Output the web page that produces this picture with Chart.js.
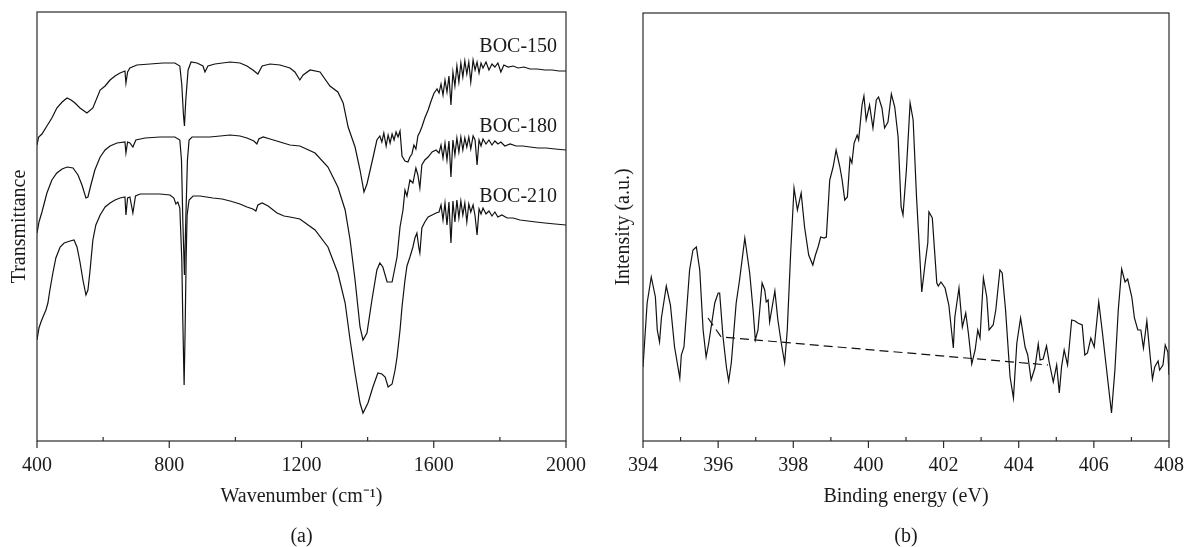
<!DOCTYPE html>
<html lang="en">
<head>
  <meta charset="UTF-8" />
  <title>BOC FTIR and N 1s XPS</title>
  <script src="https://cdn.jsdelivr.net/npm/chart.js"></script>
  <style>
    body { margin: 0; background: #fff; }
    canvas { position: absolute; top: 0; }
    #ftirChart { left: 0; }
    #xpsChart { left: 593px; }
  </style>
</head>
<body>
  <canvas id="ftirChart" width="593" height="547"></canvas>
  <canvas id="xpsChart" width="593" height="547"></canvas>

  <script>
    // --- (a) FTIR spectra, wavenumber (cm-1) vs transmittance (a.u.) ---
    const wn150 = [400,405,415,430,445,460,476,491,503,515,530,551,569,591,606,621,636,651,666,669,
      674,681,702,742,781,817,832,838,843,846,850,857,866,884,902,908,917,938,984,1014,
      1035,1053,1068,1081,1105,1135,1165,1180,1195,1205,1226,1256,1286,1310,1326,1341,1362,1377,1389,1398,
      1416,1428,1437,1443,1449,1456,1462,1468,1474,1480,1486,1492,1498,1504,1513,1522,1528,1534,1540,1546,
      1552,1558,1564,1573,1583,1592,1601,1610,1616,1622,1628,1634,1640,1646,1652,1658,1664,1670,1676,1682,
      1688,1694,1700,1706,1712,1719,1725,1731,1737,1743,1749,1758,1767,1776,1785,1794,1803,1812,1825,1840,
      1855,1873,1891,1912,1936,1958,1979,2000];
    const t150 = [296,304,307,315,323,333,339,343,341,338,333,328,333,351,355,361,365,368,370,358,
      369,373,376,377,378,378,375,356,326,315,341,371,379,378,375,369,375,377,379,378,
      375,371,367,375,377,376,373,369,361,366,371,369,355,349,338,314,294,271,249,257,
      283,301,305,299,308,295,306,298,307,301,309,304,310,285,280,279,284,287,296,292,
      305,309,314,323,331,340,348,352,348,357,346,361,349,365,336,369,355,375,359,378,
      364,380,367,379,359,381,371,379,368,378,373,379,371,377,374,378,369,376,374,375,
      373,374,372,372,371,371,370,370];

    const wn180 = [400,406,415,430,445,460,476,491,509,524,536,548,554,563,575,591,606,621,642,666,
      669,674,681,690,699,727,772,817,832,837,841,846,850,855,860,869,893,923,954,984,
      1014,1035,1056,1065,1071,1084,1105,1135,1165,1195,1241,1280,1310,1332,1347,1362,1377,1386,1398,1413,
      1428,1437,1446,1459,1474,1489,1498,1507,1513,1519,1528,1537,1546,1552,1558,1564,1573,1583,1595,1607,
      1616,1622,1628,1634,1640,1646,1652,1658,1664,1670,1676,1682,1688,1694,1700,1706,1712,1719,1725,1731,
      1737,1743,1749,1758,1767,1776,1785,1794,1803,1815,1831,1849,1870,1891,1915,1940,1967,2000];
    const t180 = [208,219,229,248,261,268,272,274,273,266,256,243,244,256,271,284,291,295,298,299,
      288,299,298,294,301,303,304,304,301,281,221,166,221,281,301,304,304,304,305,306,
      305,303,300,297,302,304,302,299,296,295,288,274,254,231,201,161,114,101,108,141,
      171,178,174,159,159,184,214,231,251,245,261,258,273,266,253,276,281,284,289,291,
      288,296,283,298,281,300,264,301,286,303,289,304,291,303,294,304,292,305,301,276,
      301,295,302,297,301,296,300,297,299,295,297,295,295,294,293,293,292,291];

    const wn210 = [400,406,412,418,427,433,439,448,457,470,482,500,512,521,530,539,548,554,560,569,
      578,591,606,621,636,651,666,669,674,681,690,698,712,742,772,802,814,820,826,832,
      838,841,845,848,851,854,860,872,893,932,960,984,1014,1035,1053,1062,1068,1081,1099,1126,
      1147,1165,1195,1241,1280,1310,1332,1347,1362,1377,1386,1401,1416,1431,1443,1453,1462,1474,1483,1489,
      1498,1504,1513,1519,1528,1537,1543,1549,1555,1558,1564,1573,1583,1595,1607,1616,1622,1628,1634,1640,
      1646,1652,1658,1664,1670,1676,1682,1688,1694,1700,1706,1712,1719,1725,1731,1737,1743,1749,1758,1767,
      1776,1785,1794,1806,1822,1840,1861,1885,1909,1936,1967,2000];
    const t210 = [101,113,119,124,131,138,151,168,183,194,198,200,201,194,179,161,146,151,169,201,
      216,226,234,238,241,243,244,226,243,244,228,245,247,247,247,246,243,237,239,233,
      181,121,56,111,181,226,241,245,245,243,242,240,237,234,232,230,236,238,235,228,
      225,224,222,211,194,168,138,101,68,38,28,38,54,68,67,64,54,57,71,84,
      111,134,161,175,184,194,203,208,193,188,213,219,224,226,228,229,236,221,238,216,
      239,198,240,219,241,223,240,226,238,219,237,229,236,225,206,232,227,233,227,230,
      225,229,224,226,223,223,221,220,219,218,217,216];

    const ftirNames = ["BOC-150", "BOC-180", "BOC-210"];
    const ftirLabelWn = [1973, 1973, 1973];
    const ftirLabelT = [389, 309, 239];

    // --- (b) XPS N 1s, binding energy (eV) vs intensity (a.u.) ---
    const bindingEv = [394.00,394.11,394.22,394.33,394.38,394.44,394.49,394.62,394.73,394.84,
      394.98,395.02,395.09,395.24,395.33,395.42,395.51,395.60,395.68,395.75,
      395.91,396.00,396.04,396.13,396.22,396.28,396.35,396.48,396.57,396.71,
      396.84,396.93,396.99,397.06,397.17,397.24,397.28,397.33,397.37,397.51,
      397.59,397.68,397.77,397.84,397.93,398.02,398.11,398.21,398.30,398.41,
      398.52,398.59,398.66,398.73,398.82,398.88,398.97,399.06,399.14,399.24,
      399.30,399.37,399.44,399.51,399.56,399.62,399.70,399.74,399.83,399.88,
      399.94,400.03,400.12,400.21,400.27,400.36,400.43,400.52,400.61,400.70,
      400.79,400.87,400.92,401.01,401.11,401.19,401.28,401.42,401.51,401.58,
      401.61,401.70,401.82,401.86,401.93,402.04,402.14,402.26,402.30,402.41,
      402.50,402.59,402.66,402.75,402.84,402.91,402.97,403.06,403.15,403.21,
      403.32,403.39,403.50,403.56,403.65,403.77,403.86,403.95,404.05,404.17,
      404.24,404.33,404.43,404.52,404.57,404.65,404.74,404.81,404.92,405.01,
      405.08,405.14,405.21,405.30,405.41,405.50,405.57,405.69,405.76,405.83,
      405.92,406.01,406.13,406.22,406.31,406.40,406.47,406.56,406.65,406.74,
      406.83,406.90,407.01,407.08,407.17,407.25,407.32,407.41,407.49,407.56,
      407.62,407.71,407.75,407.84,407.90,407.97,408.00];
    const intensity = [74,138,164,144,111,99,123,155,136,94,
      63,86,94,171,191,194,171,111,84,98,
      138,148,148,104,74,60,78,138,161,203,
      168,131,101,111,158,151,139,141,119,150,
      121,98,78,111,188,253,231,248,214,186,
      176,186,194,204,203,204,261,274,291,274,
      261,241,244,283,278,298,306,301,336,345,
      321,336,313,341,344,333,313,319,347,334,
      304,234,226,271,338,321,244,149,178,198,
      229,223,158,155,159,153,136,93,124,153,
      114,128,108,77,91,111,103,163,144,111,
      116,131,171,168,131,64,43,98,123,94,
      86,61,73,97,81,82,95,79,59,76,
      48,74,91,76,121,120,118,116,86,88,
      103,94,139,111,81,51,28,71,131,172,
      159,162,144,123,111,111,93,120,88,62,
      74,80,71,76,96,89,66];
    const bgEv = [395.73, 396.08, 404.78];
    const bgIntensity = [123, 104, 76];

    const FONT = "'Liberation Serif', 'Times New Roman', serif";
    Chart.defaults.font.family = FONT;
    Chart.defaults.color = "#1a1a1a";

    const pts = (xs, ys) => xs.map((x, i) => ({ x: x, y: ys[i] }));

    // box frame plus ticks: major ticks outside, minor ticks inside
    const frameTicks = {
      id: "frameTicks",
      afterDraw(chart, args, opts) {
        const { ctx, chartArea: a } = chart;
        const x = chart.scales.x;
        ctx.save();
        ctx.strokeStyle = "#2a2a2a";
        ctx.lineWidth = 1.2;
        ctx.strokeRect(a.left, a.top, a.right - a.left, a.bottom - a.top);
        x.ticks.forEach(t => {
          const px = x.getPixelForValue(t.value);
          const major = Math.abs(t.value % opts.major) < 1e-6;
          ctx.beginPath();
          ctx.moveTo(px, a.bottom);
          ctx.lineTo(px, major ? a.bottom + 7 : a.bottom - 4);
          ctx.stroke();
        });
        ctx.restore();
      }
    };

    // curve names written next to the FTIR traces
    const seriesLabels = {
      id: "seriesLabels",
      afterDatasetsDraw(chart, args, opts) {
        if (!opts.names) return;
        const { ctx, scales: { x, y } } = chart;
        ctx.save();
        ctx.font = "20px " + FONT;
        ctx.fillStyle = "#1a1a1a";
        ctx.textAlign = "right";
        ctx.textBaseline = "alphabetic";
        opts.names.forEach((n, i) => {
          ctx.fillText(n, x.getPixelForValue(opts.xs[i]), y.getPixelForValue(opts.ys[i]));
        });
        ctx.restore();
      }
    };

    function lineSet(data, dash) {
      return {
        data: data,
        borderColor: "#111",
        borderWidth: 1.2,
        borderDash: dash || [],
        pointRadius: 0,
        tension: 0,
        fill: false
      };
    }

    function panelOptions(p) {
      return {
        responsive: false,
        animation: false,
        events: [],
        layout: { padding: { left: 0, right: p.padRight, top: p.padTop, bottom: 0 } },
        plugins: {
          legend: { display: false },
          tooltip: { enabled: false },
          frameTicks: { major: p.major },
          seriesLabels: p.labels || {}
        },
        scales: {
          x: {
            type: "linear",
            min: p.xMin,
            max: p.xMax,
            grid: { display: false, drawTicks: false },
            border: { display: false },
            ticks: {
              stepSize: p.step,
              autoSkip: false,
              maxRotation: 0,
              padding: 13,
              font: { size: 20 },
              callback: v => (Math.abs(v % p.major) < 1e-6 ? v : "")
            },
            title: {
              display: true,
              text: [p.xTitle, "", p.panel],
              font: { size: 20, lineHeight: "20px" },
              padding: { top: 0, bottom: 0 }
            },
            afterFit: s => {
              s.height = 106;
              s.paddingLeft = 0;
              s.paddingRight = 0;
            }
          },
          y: {
            min: 0,
            max: p.yMax,
            grid: { display: false, drawTicks: false },
            border: { display: false },
            ticks: { display: false },
            title: {
              display: true,
              text: p.yTitle,
              font: { size: 20 },
              padding: { top: p.yTitlePad, bottom: 0 }
            },
            afterFit: s => { s.width = p.yWidth; }
          }
        }
      };
    }

    new Chart(document.getElementById("ftirChart"), {
      type: "line",
      data: {
        datasets: [
          lineSet(pts(wn150, t150)),
          lineSet(pts(wn180, t180)),
          lineSet(pts(wn210, t210))
        ]
      },
      options: panelOptions({
        padRight: 27, padTop: 12, major: 400, step: 200,
        xMin: 400, xMax: 2000, yMax: 429,
        xTitle: "Wavenumber (cm\u207B\u00B9)", panel: "(a)",
        yTitle: "Transmittance", yTitlePad: 8, yWidth: 37,
        labels: { names: ftirNames, xs: ftirLabelWn, ys: ftirLabelT }
      }),
      plugins: [frameTicks, seriesLabels]
    });

    new Chart(document.getElementById("xpsChart"), {
      type: "line",
      data: {
        datasets: [
          lineSet(pts(bindingEv, intensity)),
          lineSet(pts(bgEv, bgIntensity), [9, 5])
        ]
      },
      options: panelOptions({
        padRight: 17, padTop: 13, major: 2, step: 1,
        xMin: 394, xMax: 408, yMax: 428,
        xTitle: "Binding energy (eV)", panel: "(b)",
        yTitle: "Intensity (a.u.)", yTitlePad: 19, yWidth: 50
      }),
      plugins: [frameTicks, seriesLabels]
    });
  </script>
</body>
</html>
